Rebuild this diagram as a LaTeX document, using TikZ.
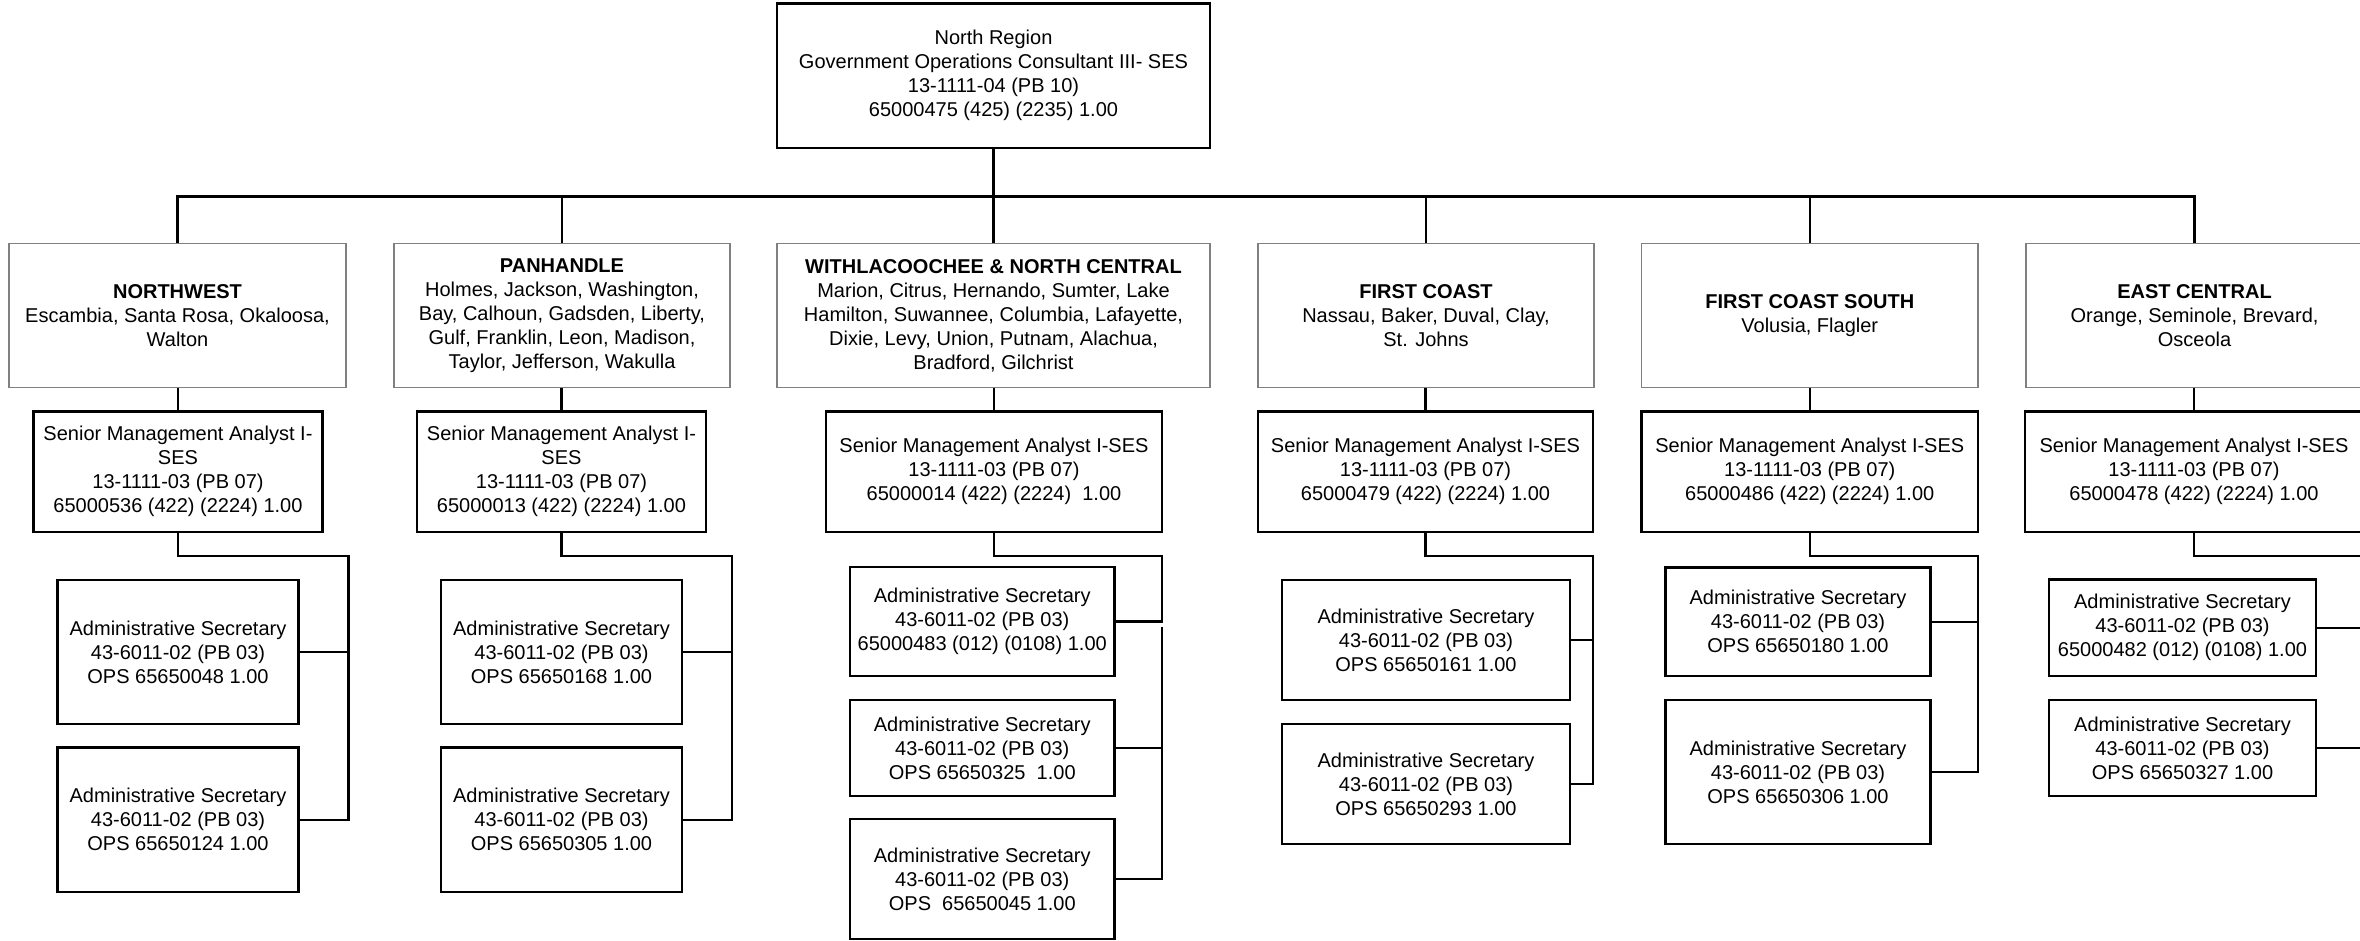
\documentclass[tikz,border=0pt]{standalone}
\usepackage{fontspec}
\setmainfont{Liberation Sans}
\definecolor{regiongray}{RGB}{128,128,128}
% \orgbox{style}{name}{x1}{y1}{x2}{y2}{text}: a box given by its corners
\newcommand\orgbox[7]{%
  \node[#1, minimum width={(#5-#3)*1pt}, minimum height={(#6-#4)*1pt}]
    (#2) at ({(#3+#5)/2},{(#4+#6)/2}) {#7};}
\begin{document}
\begin{tikzpicture}[x=1pt,y=-1pt,
  base/.style={inner sep=0pt, outer sep=0pt, align=center,
    font=\fontsize{20}{24}\selectfont},
  region/.style={base, draw=regiongray, line width=1.5pt},
  post/.style={base, draw=black, line width=2.6pt},
  link/.style={draw=black, line width=2.4pt},
  bus/.style={draw=black, line width=2.8pt}]
\useasboundingbox (0,0) rectangle (2360,941);
\fill[white] (0,0) rectangle (2360,941);
\clip (0,0) rectangle (2360,941);

% head of the region
\orgbox{post}{top}{777}{3.5}{1210}{148}{North Region\\Government Operations Consultant III- SES\\13-1111-04 (PB 10)\\65000475 (425) (2235) 1.00}

% regions
\orgbox{region}{nw}{9}{243.5}{346}{387.5}{\textbf{NORTHWEST}\\Escambia, Santa Rosa, Okaloosa,\\Walton}
\orgbox{region}{ph}{394}{243.5}{730}{387.5}{\textbf{PANHANDLE}\\Holmes, Jackson, Washington,\\Bay, Calhoun, Gadsden, Liberty,\\Gulf, Franklin, Leon, Madison,\\Taylor, Jefferson, Wakulla}
\orgbox{region}{wn}{777}{243.5}{1210}{387.5}{\textbf{WITHLACOOCHEE \& NORTH CENTRAL}\\Marion, Citrus, Hernando, Sumter, Lake\\Hamilton, Suwannee, Columbia, Lafayette,\\Dixie, Levy, Union, Putnam, Alachua,\\Bradford, Gilchrist}
\orgbox{region}{fc}{1258}{243.5}{1594}{387.5}{\textbf{FIRST COAST}\\Nassau, Baker, Duval, Clay,\\St. Johns}
\orgbox{region}{fcs}{1641.5}{243.5}{1978}{387.5}{\textbf{FIRST COAST SOUTH}\\Volusia, Flagler}
\orgbox{region}{ec}{2026}{243.5}{2363}{387.5}{\textbf{EAST CENTRAL}\\Orange, Seminole, Brevard,\\Osceola}

% senior management analysts
\orgbox{post}{nwS}{33.5}{411.5}{322.5}{532}{Senior Management Analyst I-\\SES\\13-1111-03 (PB 07)\\65000536 (422) (2224) 1.00}
\orgbox{post}{phS}{417}{411.5}{706}{532}{Senior Management Analyst I-\\SES\\13-1111-03 (PB 07)\\65000013 (422) (2224) 1.00}
\orgbox{post}{wnS}{826}{411.5}{1162}{532}{Senior Management Analyst I-SES\\13-1111-03 (PB 07)\\65000014 (422) (2224)\ \ 1.00}
\orgbox{post}{fcS}{1258}{411.5}{1593}{532}{Senior Management Analyst I-SES\\13-1111-03 (PB 07)\\65000479 (422) (2224) 1.00}
\orgbox{post}{fcsS}{1641.5}{411.5}{1978}{532}{Senior Management Analyst I-SES\\13-1111-03 (PB 07)\\65000486 (422) (2224) 1.00}
\orgbox{post}{ecS}{2025}{411.5}{2363}{532}{Senior Management Analyst I-SES\\13-1111-03 (PB 07)\\65000478 (422) (2224) 1.00}

% administrative secretaries
\orgbox{post}{nwA1}{57.5}{580}{298.5}{724}{Administrative Secretary\\43-6011-02 (PB 03)\\OPS 65650048 1.00}
\orgbox{post}{nwA2}{57.5}{747.5}{298.5}{892}{Administrative Secretary\\43-6011-02 (PB 03)\\OPS 65650124 1.00}
\orgbox{post}{phA1}{441}{580}{682}{724}{Administrative Secretary\\43-6011-02 (PB 03)\\OPS 65650168 1.00}
\orgbox{post}{phA2}{441}{747.5}{682}{892}{Administrative Secretary\\43-6011-02 (PB 03)\\OPS 65650305 1.00}
\orgbox{post}{wnA1}{850}{567}{1114.5}{676}{Administrative Secretary\\43-6011-02 (PB 03)\\65000483 (012) (0108) 1.00}
\orgbox{post}{wnA2}{850}{700}{1114.5}{796}{Administrative Secretary\\43-6011-02 (PB 03)\\OPS 65650325\ \ 1.00}
\orgbox{post}{wnA3}{850}{819}{1114.5}{939}{Administrative Secretary\\43-6011-02 (PB 03)\\OPS\ \ 65650045 1.00}
\orgbox{post}{fcA1}{1282}{580}{1570}{700}{Administrative Secretary\\43-6011-02 (PB 03)\\OPS 65650161 1.00}
\orgbox{post}{fcA2}{1282}{724}{1570}{844}{Administrative Secretary\\43-6011-02 (PB 03)\\OPS 65650293 1.00}
\orgbox{post}{fcsA1}{1665.5}{567.5}{1930.5}{676}{Administrative Secretary\\43-6011-02 (PB 03)\\OPS 65650180 1.00}
\orgbox{post}{fcsA2}{1665.5}{700}{1930.5}{844}{Administrative Secretary\\43-6011-02 (PB 03)\\OPS 65650306 1.00}
\orgbox{post}{ecA1}{2049}{579.5}{2316}{676}{Administrative Secretary\\43-6011-02 (PB 03)\\65000482 (012) (0108) 1.00}
\orgbox{post}{ecA2}{2049}{700}{2316}{796}{Administrative Secretary\\43-6011-02 (PB 03)\\OPS 65650327 1.00}

% bus from the head to the regions
\coordinate (busy) at (0,196.5);
\draw[bus] (nw.north) -- (nw.north |- busy) -- (ec.north |- busy) -- (ec.north);
\draw[link] (top.south) -- (top.south |- busy);
\foreach \r in {ph,wn,fc,fcs}
  \draw[link] (\r.north) -- (\r.north |- busy);

% region to analyst
\foreach \r in {nw,ph,wn,fc,fcs,ec}
  \draw[link] (\r S.north) -- (\r S.north |- \r.south);

% analyst to secretaries: elbow corners
\coordinate (nwR) at (348.5,555.7);
\coordinate (phR) at (732,555.7);
\coordinate (wnR) at (1162,555.7);
\coordinate (wnGap) at (1162,627.3);
\coordinate (fcR) at (1593,555.7);
\coordinate (fcsR) at (1978,555.7);
\coordinate (ecR) at (2363,555.7);

\draw[link] (nwS.south) |- (nwR) |- (nwA2.east);
\draw[link] (nwA1.east) -- (nwA1.east -| nwR);
\draw[link] (phS.south) |- (phR) |- (phA2.east);
\draw[link] (phA1.east) -- (phA1.east -| phR);
\draw[link] (wnS.south) |- (wnR) |- (wnA1.east);
\draw[link] (wnGap) |- (wnA3.east);
\draw[link] (wnA2.east) -- (wnA2.east -| wnR);
\draw[link] (fcS.south) |- (fcR) |- (fcA2.east);
\draw[link] (fcA1.east) -- (fcA1.east -| fcR);
\draw[link] (fcsS.south) |- (fcsR) |- (fcsA2.east);
\draw[link] (fcsA1.east) -- (fcsA1.east -| fcsR);
\draw[link] (ecS.south) |- (ecR) |- (ecA2.east);
\draw[link] (ecA1.east) -- (ecA1.east -| ecR);
\end{tikzpicture}
\end{document}
